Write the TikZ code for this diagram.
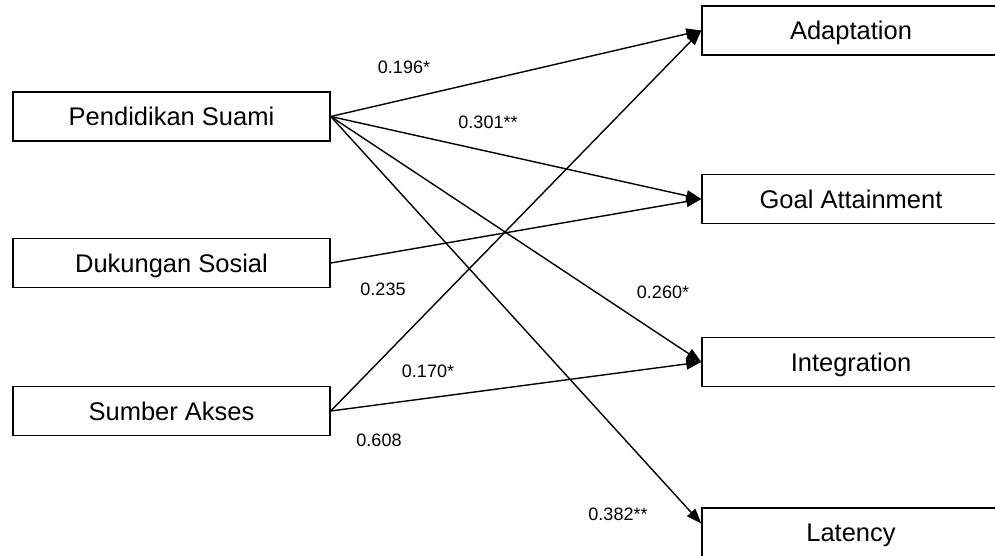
\documentclass[tikz,border=0pt]{standalone}
\usepackage{fontspec}
\setmainfont{Liberation Sans}
\usetikzlibrary{arrows.meta}
\begin{document}
\begin{tikzpicture}[x=1pt,y=-1pt,
  box/.style={draw, line width=1.5pt, rectangle, inner sep=0pt, minimum height=49pt, text height=22.6pt, text depth=4pt, font=\fontsize{25.5}{28}\selectfont},
  lbox/.style={box, minimum width=317pt},
  rbox/.style={box, minimum width=298pt},
  lab/.style={font=\fontsize{18}{20}\selectfont, inner sep=0pt},
  link/.style={line width=1.4pt, -{Triangle[length=15pt,width=11pt]}}]
\useasboundingbox (0,0) rectangle (995,556);
\clip (0,0) rectangle (995,556);
\fill[white] (0,0) rectangle (995,556);
% left boxes
\node[lbox] (ps) at (171.5,116.5) {Pendidikan Suami};
\node[lbox] (ds) at (171.5,263) {Dukungan Sosial};
\node[lbox] (sa) at (171.5,411) {Sumber Akses};
% right boxes
\node[rbox] (ad) at (851,30.5) {Adaptation};
\node[rbox] (ga) at (851,199) {Goal Attainment};
\node[rbox] (in) at (851,362) {Integration};
\node[rbox] (la) at (851,532.5) {Latency};
% connectors
\draw[link] (ps.east) -- (ad.west);
\draw[link] (ps.east) -- (ga.west);
\draw[link] (ps.east) -- (in.west);
\draw[link] (ps.east) -- ([yshift=9pt]la.west);
\draw[link] (ds.east) -- (ga.west);
\draw[link] (sa.east) -- (ad.west);
\draw[link] (sa.east) -- (in.west);
% labels
\node[lab] (l1) at (404,67) {0.196*};
\node[lab] (l2) at (488,122) {0.301**};
\node[lab] (l3) at (383,289) {0.235};
\node[lab] (l4) at (663,292) {0.260*};
\node[lab] (l5) at (428,371) {0.170*};
\node[lab] (l6) at (379,440) {0.608};
\node[lab] (l7) at (618,514) {0.382**};
\end{tikzpicture}
\end{document}
